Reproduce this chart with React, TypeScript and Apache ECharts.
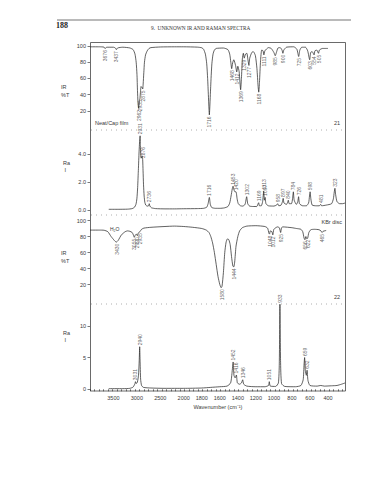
import React, { useEffect, useRef } from "react";
import * as echarts from "echarts";

// ---------- axis definition ----------
const xLabelWavenumbers = [3500, 3000, 2500, 2000, 1800, 1600, 1400, 1200, 1000, 800, 600, 400];
const irTickLabels = [20, 40, 60, 80, 100];
const ra21TickLabels = [0, 2, 4];
const ra22TickLabels = [0, 5, 10];

// ---------- compound 21: IR (neat / cap film), %T ----------
const ir21: [number, number][] = [
  [4000, 99], [3800, 99], [3700, 98.6], [3676, 96.8], [3650, 98.5], [3500, 98.5], [3460, 97.6], [3437, 95.5], [3410, 97.6],
  [3300, 98.5], [3150, 97.6], [3080, 95.5], [3040, 90], [3015, 80], [2998, 65], [2987, 45], [2976, 30], [2968, 25], [2962, 23],
  [2955, 27], [2945, 33], [2935, 35], [2925, 42], [2910, 50], [2895, 50], [2882, 48], [2875, 47], [2866, 53], [2852, 67],
  [2838, 80], [2815, 89], [2780, 94], [2740, 97], [2700, 98], [2500, 98.8], [2200, 99], [2000, 99], [1850, 98.6],
  [1800, 97.8], [1780, 96], [1760, 90], [1745, 78], [1735, 60], [1727, 40], [1720, 22], [1716, 15], [1712, 22], [1705, 40],
  [1697, 60], [1688, 78], [1675, 90], [1660, 95], [1640, 97], [1560, 97.5], [1510, 95.5], [1490, 90], [1478, 80], [1468, 72],
  [1458, 79], [1445, 83], [1425, 76], [1412, 68], [1400, 75], [1385, 68], [1369, 46], [1360, 60], [1350, 84], [1339, 91],
  [1329, 85], [1315, 90], [1300, 91], [1288, 83], [1277, 76], [1268, 85], [1245, 92], [1228, 93], [1205, 88], [1188, 72],
  [1175, 50], [1168, 43], [1160, 55], [1148, 82], [1135, 95], [1120, 94], [1111, 89], [1100, 94], [1060, 98], [1030, 97],
  [1000, 92], [985, 88], [972, 92], [955, 97.5], [930, 98], [910, 95], [900, 91], [890, 95], [860, 98.5], [780, 99],
  [745, 96], [725, 87], [712, 95], [690, 98.5], [650, 98.5], [625, 94], [603, 83], [592, 92], [575, 93], [554, 89],
  [545, 94], [525, 95], [505, 91], [495, 95], [460, 97], [420, 97], [400, 97],
];
const ir21Peaks: [number, number][] = [
  [3676, 96.8], [3437, 95.5], [2962, 23], [2935, 35], [2875, 47], [1716, 15], [1468, 72], [1412, 68], [1369, 46],
  [1329, 85], [1277, 76], [1168, 43], [1111, 89], [985, 88], [900, 91], [725, 87], [603, 83], [554, 89], [505, 91],
];

// ---------- compound 21: Raman, intensity ----------
const ra21: [number, number][] = [
  [3600, 0.05], [3400, 0.05], [3200, 0.06], [3100, 0.1], [3050, 0.2], [3020, 0.4], [3000, 0.8], [2985, 1.5], [2970, 2.7],
  [2955, 4.0], [2945, 4.7], [2938, 5.1], [2931, 5.3], [2925, 4.6], [2918, 3.9], [2908, 3.7], [2895, 3.7], [2885, 3.85],
  [2876, 3.6], [2868, 2.8], [2858, 1.8], [2845, 1.0], [2830, 0.55], [2810, 0.35], [2780, 0.28], [2750, 0.3], [2736, 0.45],
  [2722, 0.28], [2690, 0.16], [2600, 0.1], [2400, 0.08], [2200, 0.08], [2000, 0.09], [1850, 0.1], [1780, 0.12], [1745, 0.2],
  [1730, 0.45], [1716, 0.9], [1705, 0.4], [1690, 0.18], [1650, 0.12], [1600, 0.12], [1550, 0.15], [1510, 0.25], [1490, 0.5],
  [1475, 1.0], [1462, 1.5], [1453, 1.7], [1443, 1.45], [1432, 1.3], [1420, 1.3], [1408, 0.8], [1395, 0.45], [1370, 0.3],
  [1345, 0.28], [1320, 0.4], [1302, 0.95], [1290, 0.45], [1270, 0.28], [1230, 0.25], [1190, 0.25], [1175, 0.45],
  [1169, 0.52], [1160, 0.3], [1140, 0.3], [1125, 0.6], [1113, 1.35], [1105, 0.7], [1097, 0.9], [1088, 0.45], [1060, 0.3],
  [1000, 0.28], [970, 0.35], [958, 0.45], [945, 0.3], [920, 0.35], [905, 0.6], [897, 0.83], [888, 0.5], [860, 0.4],
  [848, 0.55], [840, 0.7], [830, 0.45], [805, 0.45], [793, 0.8], [784, 1.3], [775, 0.7], [750, 0.4], [735, 0.6], [726, 0.95],
  [716, 0.45], [680, 0.3], [640, 0.3], [615, 0.5], [605, 1.0], [598, 1.3], [590, 0.8], [575, 0.35], [530, 0.3], [495, 0.3],
  [481, 0.4], [470, 0.3], [420, 0.35], [360, 0.45], [340, 0.8], [330, 1.3], [323, 1.55], [315, 1.1], [300, 0.6], [270, 0.45],
  [240, 0.45], [210, 0.5],
];
const ra21Peaks: [number, number][] = [
  [2931, 5.3], [2876, 3.6], [2736, 0.45], [1716, 0.9], [1453, 1.7], [1420, 1.3], [1302, 0.95], [1169, 0.52], [1113, 1.35],
  [1097, 0.9], [958, 0.45], [897, 0.83], [840, 0.7], [784, 1.3], [726, 0.95], [598, 1.3], [481, 0.4], [323, 1.55],
];

// ---------- compound 22: IR (KBr disc), %T ----------
const ir22: [number, number][] = [
  [4000, 88], [3800, 88], [3700, 87.8], [3620, 86], [3550, 80], [3480, 75], [3440, 73], [3400, 75], [3330, 82], [3250, 86],
  [3200, 87], [3150, 86.5], [3100, 85], [3075, 82], [3055, 79], [3040, 81], [3015, 83], [2990, 81], [2975, 84], [2935, 86],
  [2900, 89], [2850, 90.5], [2700, 91.5], [2400, 92.5], [2200, 93], [2000, 92.5], [1900, 91.5], [1800, 90], [1750, 88],
  [1720, 85], [1700, 80], [1680, 72], [1660, 60], [1640, 45], [1620, 30], [1600, 20], [1585, 16], [1575, 18], [1560, 35],
  [1545, 60], [1530, 73], [1515, 77], [1500, 76], [1485, 70], [1470, 55], [1455, 43], [1445, 42], [1435, 48], [1420, 68],
  [1400, 80], [1380, 87], [1350, 91], [1300, 93], [1200, 93.5], [1100, 92.5], [1070, 90.5], [1055, 84], [1048, 83],
  [1040, 87], [1022, 86], [1012, 82], [1000, 89], [960, 92], [940, 91], [925, 85], [915, 91], [900, 92], [800, 91],
  [750, 90], [700, 89], [680, 86], [665, 78], [656, 76], [645, 80], [634, 77], [625, 78], [612, 85], [590, 88.5],
  [550, 89], [500, 88.5], [478, 87], [465, 85], [455, 86.5], [420, 87.5],
];
const ir22Peaks: [number, number][] = [
  [3430, 73], [3055, 79], [2990, 81], [2935, 86], [1580, 16], [1444, 42], [1048, 83], [1012, 82], [925, 85],
  [656, 76], [622, 78], [465, 85],
];

// ---------- compound 22: Raman, intensity ----------
const ra22: [number, number][] = [
  [3600, 0.1], [3300, 0.1], [3150, 0.15], [3080, 0.35], [3040, 0.9], [3030, 1.2], [3015, 0.9], [2990, 1.1], [2965, 2.2],
  [2950, 4.5], [2940, 6.7], [2932, 4.6], [2920, 1.6], [2900, 0.6], [2860, 0.3], [2700, 0.2], [2400, 0.15], [2000, 0.15],
  [1800, 0.2], [1700, 0.3], [1600, 0.4], [1520, 0.5], [1480, 1.0], [1465, 2.5], [1452, 4.3], [1443, 2.2], [1430, 1.8],
  [1416, 2.25], [1405, 1.0], [1380, 0.8], [1360, 1.0], [1346, 1.5], [1335, 0.8], [1300, 0.5], [1200, 0.4], [1100, 0.4],
  [1060, 0.6], [1051, 1.2], [1040, 0.5], [980, 0.45], [950, 1.0], [940, 4.0], [933, 13.4], [926, 4.5], [915, 0.9],
  [880, 0.45], [760, 0.4], [700, 0.6], [675, 1.5], [665, 4.0], [659, 5.0], [652, 3.0], [640, 2.2], [632, 3.0], [622, 1.4],
  [600, 0.6], [520, 0.5], [480, 0.6], [440, 0.5], [360, 0.55], [300, 0.6], [250, 0.8], [210, 1.0],
];
const ra22Peaks: [number, number][] = [
  [3031, 1.2], [2940, 6.7], [1452, 4.3], [1416, 2.25], [1346, 1.5], [1051, 1.2], [933, 13.4], [659, 5.0], [632, 3.0],
];

// ---------- piecewise wavenumber scale (x2 expansion below 2000 cm-1) ----------
const K = 0.52;
const toU = (w: number) => (w >= 2000 ? (4000 - w) * K : 2000 * K + (2000 - w));
const fromU = (u: number) => (u <= 2000 * K ? 4000 - u / K : 2000 - (u - 2000 * K));
const U_MAX = toU(200);

const FONT = "'Liberation Sans', Arial, Helvetica, sans-serif";
const SERIF = "'Liberation Serif', 'Times New Roman', serif";
const INK = "#1e1e1e";
const TXT = "#3a3a3a";

const xTicks: number[] = [];
for (let u = 0; u <= U_MAX + 0.01; u += 50) xTicks.push(u);

function buildOption() {
  const grids = [
    { left: 90, width: 256, top: 46, height: 81 },
    { left: 90, width: 256, top: 131, height: 79 },
    { left: 90, width: 256, top: 220.5, height: 80 },
    { left: 90, width: 256, top: 304, height: 87 },
  ];
  const xAxis = grids.map((_, i) => ({
    type: "value",
    gridIndex: i,
    min: 0,
    max: U_MAX,
    splitLine: { show: false },
    axisLine: { show: false },
    axisTick: i === 3
      ? { show: true, length: 2, inside: false, customValues: xTicks, lineStyle: { color: INK, width: 0.6 } }
      : { show: false },
    axisLabel: i === 3
      ? {
          show: true,
          customValues: xLabelWavenumbers.map(toU),
          formatter: (v: number) => String(Math.round(fromU(v))),
          fontSize: 5.5,
          color: TXT,
          fontFamily: FONT,
          margin: 4,
        }
      : { show: false },
    name: i === 3 ? "Wavenumber (cm\u207B\u00B9)" : "",
    nameLocation: "middle",
    nameGap: 13,
    nameTextStyle: { fontSize: 5.5, color: TXT, fontFamily: FONT },
  }));
  const yCommon = (labels: number[], fmt: (v: number) => string) => ({
    type: "value",
    splitLine: { show: false },
    axisLine: { show: false },
    axisTick: { show: true, length: 2.5, customValues: labels, lineStyle: { color: INK, width: 0.6 } },
    axisLabel: { show: true, customValues: labels, formatter: fmt, fontSize: 5.5, color: TXT, fontFamily: FONT, margin: 4 },
  });
  const yAxis = [
    { ...yCommon(irTickLabels, (v) => String(v)), gridIndex: 0, min: 0, max: 100 },
    { ...yCommon(ra21TickLabels, (v) => v.toFixed(1)), gridIndex: 1, min: 0, max: 79 / 14 },
    { ...yCommon(irTickLabels, (v) => String(v)), gridIndex: 2, min: 0, max: 100 },
    { ...yCommon(ra22TickLabels, (v) => String(v)), gridIndex: 3, min: -0.27, max: 13.43 },
  ];
  const line = (i: number, pts: [number, number][]) => ({
    type: "line",
    xAxisIndex: i,
    yAxisIndex: i,
    data: pts.map(([w, v]) => [toU(w), v]),
    showSymbol: false,
    symbol: "none",
    smooth: 0.2,
    clip: false,
    lineStyle: { color: INK, width: 0.7 },
    silent: true,
  });
  const labels = (i: number, pts: [number, number][], down: boolean) => ({
    type: "scatter",
    xAxisIndex: i,
    yAxisIndex: i,
    data: pts.map(([w, v]) => [toU(w), v, String(w)]),
    symbolSize: 1,
    itemStyle: { color: "rgba(0,0,0,0)" },
    clip: false,
    silent: true,
    label: {
      show: true,
      formatter: (p: any) => p.value[2],
      rotate: 90,
      position: down ? "bottom" : "top",
      distance: 1,
      align: down ? "right" : "left",
      verticalAlign: "middle",
      fontSize: 5,
      color: TXT,
      fontFamily: FONT,
    },
  });

  const sep = (y: number) => ({
    type: "line",
    shape: { x1: 91, y1: y, x2: 345, y2: y },
    style: { stroke: "#555", lineWidth: 0.6, lineDash: [0.8, 4.2] },
    silent: true,
  });
  const txt = (x: number, y: number, text: string, extra: any = {}) => ({
    type: "text",
    x,
    y,
    style: { text, fontSize: 5.5, fill: TXT, fontFamily: FONT, ...extra },
    silent: true,
  });

  return {
    animation: false,
    backgroundColor: "#ffffff",
    title: [
      {
        text: "188",
        left: 56,
        top: 21,
        padding: 0,
        textStyle: { fontSize: 8, fontFamily: SERIF, fontWeight: "bold", color: "#222222" },
      },
      {
        text: "9.  UNKNOWN IR AND RAMAN SPECTRA",
        left: 151,
        top: 25,
        padding: 0,
        textStyle: { fontSize: 5.3, fontFamily: SERIF, fontWeight: "normal", color: "#333333" },
      },
    ],
    grid: grids,
    xAxis,
    yAxis,
    series: [
      line(0, ir21), labels(0, ir21Peaks, true),
      line(1, ra21), labels(1, ra21Peaks, false),
      line(2, ir22), labels(2, ir22Peaks, true),
      line(3, ra22), labels(3, ra22Peaks, false),
    ],
    graphic: [
      { type: "line", shape: { x1: 57, y1: 20, x2: 351, y2: 20 }, style: { stroke: "#777", lineWidth: 1.2 }, silent: true },
      { type: "rect", shape: { x: 90.5, y: 42.5, width: 255, height: 348.5 }, style: { fill: "none", stroke: "#444", lineWidth: 0.8 }, silent: true },
      sep(130), sep(215), sep(304),
      txt(61, 84, "IR"), txt(61, 92, "%T"),
      txt(63, 160, "Ra"), txt(64.5, 167, "I"),
      txt(61, 250, "IR"), txt(61, 258, "%T"),
      txt(63, 330, "Ra"), txt(64.5, 337, "I"),
      txt(95, 120, "Neat/Cap film"),
      txt(334, 120, "21"),
      txt(342, 219, "KBr disc", { align: "right" }),
      txt(334, 294, "22"),
      txt(110, 226, "H\u2082O", { fontSize: 5 }),
    ],
  };
}

export default function App() {
  const ref = useRef<HTMLDivElement>(null);
  useEffect(() => {
    if (!ref.current) return;
    const chart = echarts.init(ref.current, null, { renderer: "svg" });
    chart.setOption(buildOption() as any);
    return () => chart.dispose();
  }, []);
  return (
    <div
      ref={ref}
      style={{ position: "absolute", left: 0, top: 0, width: 389, height: 480, background: "#fff" }}
    />
  );
}
